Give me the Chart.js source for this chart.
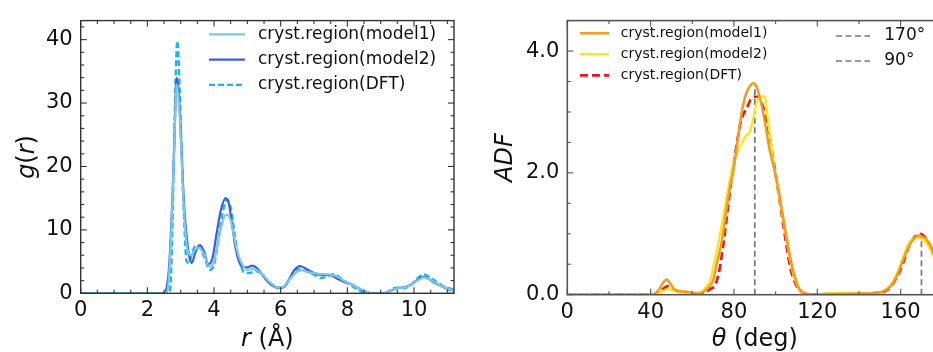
<!DOCTYPE html>
<html><head><meta charset="utf-8">
<script src="https://cdn.jsdelivr.net/npm/chart.js@4/dist/chart.umd.min.js"></script>
<style>
html,body{margin:0;padding:0;width:933px;height:352px;overflow:hidden;background:#fff;}
#w1{position:absolute;left:0;top:0;width:470px;height:352px;}
#w2{position:absolute;left:470px;top:0;width:490px;height:352px;}
</style></head><body>
<div id="w1"><canvas id="c1" width="470" height="352"></canvas></div>
<div id="w2"><canvas id="c2" width="490" height="352"></canvas></div>
<script>
// ---------- Left panel: g(r) ----------
const rModel1 = [0,2.5,2.55,2.62,2.72,2.8,2.88,2.96,3.03,3.1,3.2,3.3,3.45,3.55,3.7,3.85,4.0,4.15,4.3,4.38,4.5,4.6,4.7,4.85,5.0,5.15,5.3,5.5,5.7,5.95,6.1,6.3,6.5,6.65,6.85,7.1,7.35,7.55,7.75,7.95,8.15,8.35,8.55,8.7,9.15,9.3,9.5,9.7,9.9,10.1,10.3,10.5,10.7,10.9,11.1,11.2];
const gModel1 = [0,0,0,1,10,22,33,29,21,13,7,6,7,7.2,6.2,4.2,5,9,12,12.4,11.5,9,6.5,4.5,3.7,3.8,3.6,2.7,1.6,0.9,1.1,2.4,3.4,3.6,3.3,3.1,3.0,2.9,2.5,1.8,1.3,0.8,0.3,0.05,0,0.5,0.8,0.9,1.3,2.0,2.5,2.1,1.5,1.0,0.6,0.45];
const rModel2 = [0,2.5,2.55,2.65,2.75,2.8,2.88,2.96,3.03,3.1,3.18,3.25,3.33,3.45,3.58,3.7,3.83,3.95,4.08,4.2,4.35,4.45,4.55,4.65,4.75,4.85,5.0,5.15,5.3,5.45,5.6,5.75,5.95,6.1,6.25,6.4,6.58,6.75,6.95,7.15,7.35,7.5,7.7,7.9,8.1,8.3,8.5,8.7,8.85,9.1,9.3,9.5,9.7,9.9,10.05,10.25,10.4,10.6,10.8,11.0,11.2];
const gModel2 = [0,0,0.3,4,15,22,34,30,22,14,9,6,4.8,6.6,7.6,6.6,4.6,5.5,9.5,13,15,14,10.5,7,5,4.2,4.1,4.35,3.9,2.9,1.9,1.2,0.8,1.0,2.2,3.6,4.3,3.9,3.3,2.95,2.9,2.85,2.3,1.8,1.45,0.9,0.4,0.05,0,0,0.4,0.8,0.95,1.3,1.9,2.6,2.4,1.7,1.2,0.7,0.4];
const rDFT = [0,2.6,2.68,2.75,2.82,2.9,2.97,3.03,3.1,3.18,3.25,3.35,3.48,3.6,3.72,3.88,4.0,4.12,4.25,4.4,4.5,4.6,4.7,4.8,4.9,5.05,5.25,5.45,5.6,5.8,6.0,6.15,6.3,6.5,6.65,6.85,7.05,7.2,7.4,7.6,7.75,7.95,8.1,8.3,8.45,8.6,9.15,9.3,9.5,9.7,9.9,10.1,10.28,10.45,10.65,10.85,11.05,11.2];
const gDFT = [0,0,0.5,10,28,39.8,32,22,12,5,4.8,6.5,7.6,7.0,5.5,3.7,4.5,8,12.5,14.8,13.5,10,6.5,4.5,3.3,3.2,3.5,3.0,2.0,1.2,0.9,1.3,2.5,3.8,3.7,3.3,2.8,2.4,2.7,3.0,2.6,1.8,1.3,0.6,0.2,0,0,0.6,0.9,0.8,1.3,2.3,3.0,2.6,1.9,1.2,0.8,0.6];
const leftXTicks = [0,2,4,6,8,10];
const leftYTicks = [0,10,20,30,40];
const leftLabels = ['cryst.region(model1)','cryst.region(model2)','cryst.region(DFT)'];

// ---------- Right panel: ADF ----------
const thModel1 = [0,40,42,44,46,47.7,49.5,51,53,56,59,62,64,66,68,70,72,74,76,78,80,82,84,86,88,89.3,91,93,95,97,99,101,103,104.5,106,108,109.3,111,113,116,120,130,140,148,152,155,158,161,164,166.5,168.5,170,172,174,176,178,180];
const adfModel1 = [0,0,0.02,0.08,0.2,0.25,0.18,0.1,0.06,0.05,0.04,0.02,0.03,0.06,0.13,0.24,0.55,0.85,1.3,1.75,2.1,2.6,3.05,3.32,3.44,3.47,3.4,3.15,2.8,2.4,2.1,1.8,1.4,1.09,0.8,0.45,0.29,0.12,0.04,0.01,0,0.01,0.02,0.03,0.06,0.13,0.3,0.55,0.8,0.92,0.97,0.96,0.92,0.82,0.65,0.45,0.3];
const thModel2 = [0,40,43,45,47,48.5,50,52,56,60,63,65,67,68.5,70,72,74.9,77,79.7,82,84,85.5,87.7,89,90.5,92,94,95,96,97.5,99,101,103,105,107,109,111,113,117,130,140,148,152,155,158,161,164,166.5,168,170,172,174,176,178,180];
const adfModel2 = [0,0,0.01,0.04,0.08,0.1,0.08,0.05,0.04,0.03,0.03,0.06,0.15,0.23,0.45,0.75,1.3,1.7,2.16,2.38,2.5,2.6,2.68,2.85,3.1,3.24,3.26,3.24,2.95,2.55,2.16,1.75,1.35,0.95,0.55,0.27,0.1,0.03,0,0.03,0.03,0.03,0.07,0.15,0.33,0.6,0.85,0.93,0.94,0.92,0.86,0.76,0.6,0.42,0.28];
const thDFT = [0,40,43,45,47,48.5,50,52,55,58,62,65,67,69,71,73,75,77,79,81,83,84.5,86,88,90,91.5,93.3,95,97,99,101,103,105,107,109,111,113,117,130,140,148,152,155,158,161,164,166,168,169.6,171,173,175,177,180];
const adfDFT = [0,0,0.02,0.07,0.12,0.14,0.11,0.07,0.05,0.04,0.02,0.03,0.06,0.1,0.16,0.4,0.85,1.4,1.95,2.4,2.8,2.96,3.05,3.2,3.25,3.25,3.15,2.95,2.62,2.2,1.75,1.3,0.85,0.45,0.22,0.09,0.03,0,0.02,0.02,0.03,0.05,0.12,0.28,0.5,0.8,0.92,0.98,1.0,0.97,0.88,0.75,0.55,0.3];
const refAngles = [170, 90];
const refTops = [0.98, 3.46];
const refLabels = ['170°', '90°'];
const rightXTicks = [0,40,80,120,160];
const rightYTicks = [0,2,4];
const rightLabels = ['cryst.region(model1)','cryst.region(model2)','cryst.region(DFT)'];

const FONT = "'DejaVu Sans', 'Liberation Sans', sans-serif";
const pts = (xs, ys) => xs.map((x, i) => ({x, y: ys[i]}));

// frame + inward ticks (matplotlib-like)
const frameTicks = {
  id: 'frameTicks',
  afterDatasetsDraw(chart, args, o) {
    const {ctx, chartArea: a, scales: {x, y}} = chart;
    ctx.save();
    ctx.strokeStyle = o.color; ctx.lineWidth = o.width;
    ctx.strokeRect(a.left, a.top, a.right - a.left, a.bottom - a.top);
    ctx.lineWidth = o.tickWidth;
    const tick = (x1, y1, x2, y2) => { ctx.beginPath(); ctx.moveTo(x1, y1); ctx.lineTo(x2, y2); ctx.stroke(); };
    const eps = 1e-6;
    for (let v = x.min; v <= x.max + eps; v += o.xMinor) {
      const px = x.getPixelForValue(v);
      const major = Math.abs(v / o.xMajor - Math.round(v / o.xMajor)) < 1e-6;
      const L = major ? o.major : o.minor;
      tick(px, a.bottom, px, a.bottom - L);
      tick(px, a.top, px, a.top + L);
    }
    for (let v = y.min; v <= y.max + eps; v += o.yMinor) {
      const py = y.getPixelForValue(v);
      const major = Math.abs(v / o.yMajor - Math.round(v / o.yMajor)) < 1e-6;
      const L = major ? o.major : o.minor;
      tick(a.left, py, a.left + L, py);
      tick(a.right, py, a.right - L, py);
    }
    ctx.restore();
  }
};

// matplotlib-style legends drawn inside the plot
const boxLegends = {
  id: 'boxLegends',
  afterDraw(chart, args, o) {
    const ctx = chart.ctx;
    ctx.save();
    for (const lg of o.groups) {
      ctx.font = lg.font;
      ctx.textBaseline = 'middle';
      lg.items.forEach((it, i) => {
        const yy = lg.y + i * lg.rowH;
        ctx.strokeStyle = it.color; ctx.lineWidth = it.width;
        ctx.setLineDash(it.dash || []);
        ctx.beginPath(); ctx.moveTo(lg.x0, yy); ctx.lineTo(lg.x1, yy); ctx.stroke();
        ctx.setLineDash([]);
        ctx.fillStyle = '#111';
        ctx.fillText(it.label, lg.tx, yy);
      });
    }
    ctx.restore();
  }
};

// axis titles with mixed italic pieces
const axisTitles = {
  id: 'axisTitles',
  afterDraw(chart, args, o) {
    const ctx = chart.ctx, a = chart.chartArea;
    const run = (pieces, size) => {
      let w = 0;
      pieces.forEach(p => { ctx.font = (p.i ? 'italic ' : '') + size + 'px ' + FONT; p.w = ctx.measureText(p.t).width; w += p.w; });
      return w;
    };
    const draw = (pieces, size, cx, cy, rot) => {
      ctx.save();
      ctx.translate(cx, cy); if (rot) ctx.rotate(-Math.PI / 2);
      const w = run(pieces, size);
      let x = -w / 2;
      ctx.fillStyle = '#111'; ctx.textBaseline = 'alphabetic';
      pieces.forEach(p => { ctx.font = (p.i ? 'italic ' : '') + size + 'px ' + FONT; ctx.fillText(p.t, x, 0); x += p.w; });
      ctx.restore();
    };
    draw(o.x, o.size, (a.left + a.right) / 2, o.xBase, false);
    draw(o.y, o.size, o.yBase, (a.top + a.bottom) / 2, true);
  }
};

function makeScales(xmin, xmax, xt, ymin, ymax, yt, yfmt, yW, xH) {
  return {
    x: {type: 'linear', min: xmin, max: xmax,
        afterBuildTicks: s => { s.ticks = xt.map(v => ({value: v})); },
        afterFit: s => { s.height = xH; },
        grid: {display: false, drawTicks: false}, border: {display: false},
        ticks: {color: '#111', font: {family: FONT, size: 21}, padding: 5, maxRotation: 0, autoSkip: false}},
    y: {type: 'linear', min: ymin, max: ymax,
        afterBuildTicks: s => { s.ticks = yt.map(v => ({value: v})); },
        afterFit: s => { s.width = yW; },
        grid: {display: false, drawTicks: false}, border: {display: false},
        ticks: {color: '#111', font: {family: FONT, size: 21}, padding: 8, autoSkip: false, callback: yfmt}}
  };
}

const lineDs = (label, data, color, w, dash) => ({
  label, data, borderColor: color, borderWidth: w, borderDash: dash || [],
  pointRadius: 0, fill: false, cubicInterpolationMode: 'monotone'
});

// Left chart
new Chart(document.getElementById('c1'), {
  type: 'line',
  data: {datasets: [
    lineDs(leftLabels[0], pts(rModel1, gModel1), '#7cc6e8', 2.2),
    lineDs(leftLabels[1], pts(rModel2, gModel2), '#3d5fd6', 2.2),
    lineDs(leftLabels[2], pts(rDFT, gDFT), '#18b4f0', 2.4, [6, 3])
  ]},
  options: {
    responsive: false, animation: false, devicePixelRatio: 1,
    layout: {padding: {left: 0, right: 16, top: 12.7, bottom: 0}},
    scales: makeScales(0, 11.2, leftXTicks, 0, 43, leftYTicks, v => String(v), 80.7, 58.7),
    plugins: {
      legend: {display: false}, tooltip: {enabled: false},
      frameTicks: {color: '#333', width: 1.4, tickWidth: 1.1, xMajor: 2, xMinor: 0.5, yMajor: 10, yMinor: 2, major: 6, minor: 3.5},
      boxLegends: {groups: [{x0: 209, x1: 245, tx: 258, y: 34.3, rowH: 25.3, font: '17px ' + FONT, items: [
        {label: leftLabels[0], color: '#7cc6e8', width: 2.2},
        {label: leftLabels[1], color: '#3d5fd6', width: 2.2},
        {label: leftLabels[2], color: '#18b4f0', width: 2.4, dash: [6, 3]}
      ]}]},
      axisTitles: {size: 24, x: [{t: 'r', i: true}, {t: ' (Å)', i: false}], xBase: 346,
                   y: [{t: 'g', i: true}, {t: '(', i: false}, {t: 'r', i: true}, {t: ')', i: false}], yBase: 34}
    }
  },
  plugins: [frameTicks, boxLegends, axisTitles]
});

// Right chart
const refDs = refAngles.map((a, i) => ({
  label: refLabels[i], data: [{x: a, y: 0}, {x: a, y: refTops[i]}],
  borderColor: '#777', borderWidth: 1.7, borderDash: [6, 3.5], pointRadius: 0, fill: false
}));
new Chart(document.getElementById('c2'), {
  type: 'line',
  data: {datasets: [
    lineDs(rightLabels[0], pts(thModel1, adfModel1), '#f59a1e', 2.5),
    lineDs(rightLabels[1], pts(thModel2, adfModel2), '#f3e81c', 2.3),
    lineDs(rightLabels[2], pts(thDFT, adfDFT), '#e31a1c', 2.7, [8, 4]),
    ...refDs
  ]},
  options: {
    responsive: false, animation: false, devicePixelRatio: 1,
    layout: {padding: {left: 0, right: 17.7, top: 14.3, bottom: 0}},
    scales: makeScales(0, 180, rightXTicks, 0, 4.5, rightYTicks, v => Number(v).toFixed(1), 97.3, 57.3),
    plugins: {
      legend: {display: false}, tooltip: {enabled: false},
      frameTicks: {color: '#555', width: 1.6, tickWidth: 1.1, xMajor: 40, xMinor: 20, yMajor: 2, yMinor: 0.5, major: 6, minor: 3.5},
      boxLegends: {groups: [
        {x0: 110, x1: 139, tx: 150.7, y: 33.3, rowH: 21, font: '14px ' + FONT, items: [
          {label: rightLabels[0], color: '#f59a1e', width: 2.5},
          {label: rightLabels[1], color: '#f3e81c', width: 2.5},
          {label: rightLabels[2], color: '#e31a1c', width: 2.7, dash: [8, 4]}
        ]},
        {x0: 366, x1: 400, tx: 414.3, y: 36, rowH: 25, font: '17px ' + FONT, items: [
          {label: refLabels[0], color: '#777', width: 1.7, dash: [6, 3.5]},
          {label: refLabels[1], color: '#777', width: 1.7, dash: [6, 3.5]}
        ]}
      ]},
      axisTitles: {size: 24, x: [{t: 'θ', i: true}, {t: ' (deg)', i: false}], xBase: 346,
                   y: [{t: 'ADF', i: true}], yBase: 42}
    }
  },
  plugins: [frameTicks, boxLegends, axisTitles]
});
</script>
</body></html>
